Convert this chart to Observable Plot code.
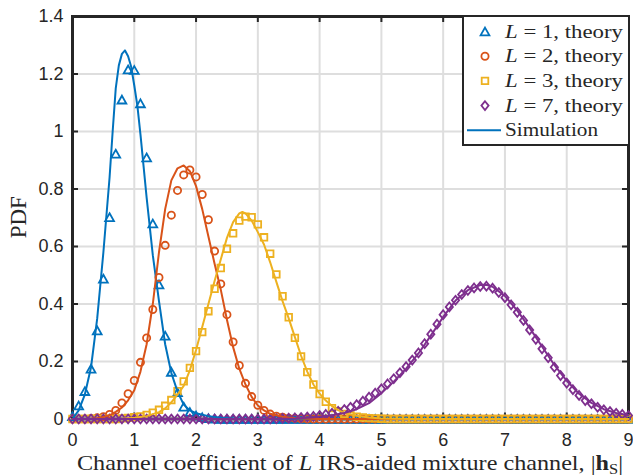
<!DOCTYPE html>
<html>
<head>
<meta charset="utf-8">
<script src="https://cdn.jsdelivr.net/npm/d3@7"></script>
<script src="https://cdn.jsdelivr.net/npm/@observablehq/plot@0.6"></script>
<style>
  html, body { margin: 0; padding: 0; background: #fff; }
  #chart svg { display: block; }
</style>
</head>
<body>
<div id="chart"></div>
<script>
// Sample positions of the theoretical PDF markers, |h_S| = 0 ... 9
const xs = [
  0, 0.1, 0.2, 0.3, 0.4, 0.5, 0.6, 0.7, 0.8, 0.9,
  1, 1.1, 1.2, 1.3, 1.4, 1.5, 1.6, 1.7, 1.8, 1.9,
  2, 2.1, 2.2, 2.3, 2.4, 2.5, 2.6, 2.7, 2.8, 2.9,
  3, 3.1, 3.2, 3.3, 3.4, 3.5, 3.6, 3.7, 3.8, 3.9,
  4, 4.1, 4.2, 4.3, 4.4, 4.5, 4.6, 4.7, 4.8, 4.9,
  5, 5.1, 5.2, 5.3, 5.4, 5.5, 5.6, 5.7, 5.8, 5.9,
  6, 6.1, 6.2, 6.3, 6.4, 6.5, 6.6, 6.7, 6.8, 6.9,
  7, 7.1, 7.2, 7.3, 7.4, 7.5, 7.6, 7.7, 7.8, 7.9,
  8, 8.1, 8.2, 8.3, 8.4, 8.5, 8.6, 8.7, 8.8, 8.9,
  9
];

// Theoretical PDF values
const theoryL1 = [
  0.010, 0.047, 0.097, 0.175, 0.308, 0.488, 0.702, 0.923, 1.111, 1.216,
  1.214, 1.098, 0.910, 0.680, 0.468, 0.290, 0.164, 0.093, 0.043, 0.024,
  0.012, 0.006, 0.003, 0.001, 0, 0, 0, 0, 0, 0,
  0, 0, 0, 0, 0, 0, 0, 0, 0, 0,
  0, 0, 0, 0, 0, 0, 0, 0, 0, 0,
  0, 0, 0, 0, 0, 0, 0, 0, 0, 0,
  0, 0, 0, 0, 0, 0, 0, 0, 0, 0,
  0, 0, 0, 0, 0, 0, 0, 0, 0, 0,
  0, 0, 0, 0, 0, 0, 0, 0, 0, 0,
  0
];
const theoryL2 = [
  0, 0, 0, 0.002, 0.004, 0.008, 0.016, 0.030, 0.056, 0.088,
  0.134, 0.197, 0.282, 0.381, 0.492, 0.604, 0.709, 0.795, 0.849, 0.866,
  0.842, 0.781, 0.693, 0.584, 0.470, 0.363, 0.268, 0.186, 0.124, 0.078,
  0.048, 0.030, 0.017, 0.010, 0.006, 0.003, 0.002, 0.001, 0, 0,
  0, 0, 0, 0, 0, 0, 0, 0, 0, 0,
  0, 0, 0, 0, 0, 0, 0, 0, 0, 0,
  0, 0, 0, 0, 0, 0, 0, 0, 0, 0,
  0, 0, 0, 0, 0, 0, 0, 0, 0, 0,
  0, 0, 0, 0, 0, 0, 0, 0, 0, 0,
  0
];
const theoryL3 = [
  0, 0, 0, 0, 0, 0, 0, 0, 0.002, 0.004,
  0.006, 0.009, 0.014, 0.022, 0.032, 0.046, 0.066, 0.097, 0.131, 0.178,
  0.236, 0.302, 0.375, 0.453, 0.525, 0.592, 0.646, 0.690, 0.704, 0.702,
  0.677, 0.632, 0.575, 0.503, 0.427, 0.354, 0.282, 0.218, 0.163, 0.120,
  0.087, 0.060, 0.038, 0.026, 0.018, 0.012, 0.008, 0.005, 0.003, 0.002,
  0.001, 0, 0, 0, 0, 0, 0, 0, 0, 0,
  0, 0, 0, 0, 0, 0, 0, 0, 0, 0,
  0, 0, 0, 0, 0, 0, 0, 0, 0, 0,
  0, 0, 0, 0, 0, 0, 0, 0, 0, 0,
  0
];
const theoryL7 = [
  0, 0, 0, 0, 0, 0, 0, 0, 0, 0,
  0, 0, 0, 0, 0, 0, 0, 0, 0, 0,
  0, 0, 0, 0, 0, 0, 0, 0, 0, 0,
  0, 0, 0, 0.001, 0.002, 0.003, 0.004, 0.005, 0.007, 0.009,
  0.012, 0.016, 0.020, 0.027, 0.033, 0.041, 0.050, 0.062, 0.076, 0.090,
  0.105, 0.122, 0.140, 0.161, 0.182, 0.205, 0.230, 0.262, 0.295, 0.330,
  0.363, 0.390, 0.413, 0.433, 0.447, 0.456, 0.461, 0.462, 0.455, 0.440,
  0.422, 0.397, 0.371, 0.343, 0.310, 0.277, 0.244, 0.213, 0.180, 0.151,
  0.125, 0.102, 0.082, 0.064, 0.053, 0.041, 0.032, 0.026, 0.020, 0.016,
  0.012
];

// Simulated (Monte Carlo) PDF curves
const simL1x = [0, 0.1, 0.2, 0.3, 0.4, 0.5, 0.6, 0.65, 0.7, 0.75, 0.8, 0.85, 0.9, 0.95, 1, 1.05, 1.1, 1.2, 1.3, 1.4, 1.5, 1.6, 1.7, 1.8, 1.9, 2, 2.2, 2.4, 2.6, 3, 4, 5, 6, 7, 8, 9];
const simL1y = [0, 0.03, 0.085, 0.18, 0.35, 0.58, 0.84, 1.0, 1.15, 1.23, 1.27, 1.282, 1.262, 1.225, 1.16, 1.09, 0.99, 0.77, 0.57, 0.41, 0.26, 0.16, 0.095, 0.05, 0.03, 0.02, 0.01, 0.004, 0.001, 0, 0, 0, 0, 0, 0, 0];
const simL2x = [0, 0.3, 0.4, 0.5, 0.6, 0.7, 0.8, 0.9, 1, 1.1, 1.2, 1.3, 1.4, 1.5, 1.6, 1.7, 1.8, 1.9, 2, 2.1, 2.2, 2.3, 2.4, 2.5, 2.6, 2.7, 2.8, 2.9, 3, 3.1, 3.2, 3.4, 3.6, 3.8, 4, 5, 6, 7, 8, 9];
const simL2y = [0, 0.001, 0.003, 0.007, 0.013, 0.025, 0.04, 0.065, 0.1, 0.165, 0.26, 0.4, 0.58, 0.73, 0.83, 0.872, 0.882, 0.862, 0.81, 0.73, 0.635, 0.54, 0.45, 0.345, 0.25, 0.175, 0.12, 0.077, 0.047, 0.03, 0.018, 0.008, 0.003, 0.001, 0, 0, 0, 0, 0, 0];
const simL3x = [0, 0.8, 1, 1.2, 1.4, 1.5, 1.6, 1.7, 1.8, 1.9, 2, 2.1, 2.2, 2.3, 2.4, 2.5, 2.6, 2.7, 2.75, 2.8, 2.9, 3, 3.1, 3.2, 3.3, 3.4, 3.5, 3.6, 3.7, 3.8, 3.9, 4, 4.1, 4.2, 4.3, 4.4, 4.6, 4.8, 5, 5.5, 6, 7, 8, 9];
const simL3y = [0, 0.001, 0.004, 0.01, 0.024, 0.037, 0.058, 0.085, 0.115, 0.17, 0.24, 0.32, 0.4, 0.48, 0.555, 0.63, 0.685, 0.715, 0.72, 0.715, 0.69, 0.65, 0.607, 0.545, 0.477, 0.41, 0.35, 0.285, 0.22, 0.165, 0.12, 0.088, 0.064, 0.045, 0.031, 0.021, 0.011, 0.005, 0.002, 0, 0, 0, 0, 0];
const simL7x = [0, 1, 2, 3, 3.4, 3.6, 3.8, 4, 4.2, 4.4, 4.6, 4.8, 5, 5.2, 5.4, 5.6, 5.8, 6, 6.2, 6.4, 6.6, 6.7, 6.8, 7, 7.2, 7.4, 7.6, 7.8, 8, 8.2, 8.4, 8.6, 8.8, 9];
const simL7y = [0, 0, 0, 0, 0.001, 0.002, 0.004, 0.008, 0.013, 0.021, 0.034, 0.055, 0.09, 0.13, 0.175, 0.228, 0.29, 0.355, 0.412, 0.448, 0.466, 0.467, 0.46, 0.428, 0.377, 0.317, 0.252, 0.188, 0.133, 0.088, 0.056, 0.034, 0.021, 0.013];

const xTicks = [0, 1, 2, 3, 4, 5, 6, 7, 8, 9];
const yTicks = [0, 0.2, 0.4, 0.6, 0.8, 1, 1.2, 1.4];

const seriesLs = ["1", "2", "3", "7"];
const colors = ["#0072BD", "#D95319", "#EDB120", "#7E2F8E"];

// MATLAB-like marker outlines
const triangleSym = { draw(ctx) { const w = 4.4, h = 3.9; ctx.moveTo(0, -h); ctx.lineTo(w, h); ctx.lineTo(-w, h); ctx.closePath(); } };
const squareSym = { draw(ctx) { const s = 3.3; ctx.moveTo(-s, -s); ctx.lineTo(s, -s); ctx.lineTo(s, s); ctx.lineTo(-s, s); ctx.closePath(); } };
const diamondSym = { draw(ctx) { const w = 3.6, h = 4.4; ctx.moveTo(0, -h); ctx.lineTo(w, 0); ctx.lineTo(0, h); ctx.lineTo(-w, 0); ctx.closePath(); } };
const circleSym = { draw(ctx) { const r = 3.6; ctx.moveTo(r, 0); ctx.arc(0, 0, r, 0, 2 * Math.PI); ctx.closePath(); } };
const symbols = [triangleSym, circleSym, squareSym, diamondSym];

const theory = [theoryL1, theoryL2, theoryL3, theoryL7];
const simX = [simL1x, simL2x, simL3x, simL7x];
const simY = [simL1y, simL2y, simL3y, simL7y];

const W = 633, H = 476;
const mL = 72, mR = 5, mT = 16, mB = 57.5;
const frameH = H - mT - mB, frameW = W - mL - mR;
const axisColor = "#262626";
const markerStroke = 1.8;

const dotMarks = theory.map((ys, k) =>
  Plot.dot(xs.map((x, i) => ({x, y: ys[i]})), {
    x: "x", y: "y", symbol: symbols[k], r: 4, fill: "none",
    stroke: colors[k], strokeWidth: markerStroke
  })
);
const lineMarks = simX.map((sx, k) =>
  Plot.line(sx.map((x, i) => ({x, y: simY[k][i]})), {
    x: "x", y: "y", stroke: colors[k], strokeWidth: 2
  })
);

const plot = Plot.plot({
  width: W, height: H,
  marginLeft: mL, marginRight: mR, marginTop: mT, marginBottom: mB,
  x: {domain: [0, 9]},
  y: {domain: [0, 1.4]},
  style: {fontFamily: "'Liberation Sans', Arial, sans-serif", fontSize: "18px", color: axisColor, background: "#fff", overflow: "visible"},
  marks: [
    Plot.gridX(xTicks, {stroke: "#dedede", strokeOpacity: 1, strokeWidth: 2}),
    Plot.gridY(yTicks, {stroke: "#dedede", strokeOpacity: 1, strokeWidth: 2}),
    Plot.axisX(xTicks, {tickSize: 0, tickPadding: 14.7, label: null, tickFormat: d => String(d), fill: axisColor}),
    Plot.axisY(yTicks, {tickSize: 0, tickPadding: 9, label: null, tickFormat: d => String(d), fill: axisColor}),
    // inward ticks on all four sides
    Plot.tickX(xTicks, {x: d => d, insetTop: frameH - 6, stroke: axisColor, strokeWidth: 2}),
    Plot.tickX(xTicks, {x: d => d, insetBottom: frameH - 6, stroke: axisColor, strokeWidth: 2}),
    Plot.tickY(yTicks, {y: d => d, insetRight: frameW - 6, stroke: axisColor, strokeWidth: 2}),
    Plot.tickY(yTicks, {y: d => d, insetLeft: frameW - 6, stroke: axisColor, strokeWidth: 2}),
    Plot.frame({stroke: axisColor, strokeWidth: 3}),
    ...dotMarks,
    ...lineMarks
  ]
});

document.getElementById("chart").append(plot);

const svg = d3.select(plot);
const serif = "'Liberation Serif', 'Times New Roman', serif";

// x-axis label
const xl = svg.append("text")
  .attr("x", 77).attr("y", 469.5)
  .attr("text-anchor", "start")
  .attr("textLength", 546).attr("lengthAdjust", "spacingAndGlyphs")
  .attr("font-family", serif).attr("font-size", 22).attr("fill", axisColor);
xl.append("tspan").text("Channel coefficient of ");
xl.append("tspan").attr("font-style", "italic").text("L");
xl.append("tspan").text(" IRS-aided mixture channel, |");
xl.append("tspan").attr("font-weight", "bold").text("h");
xl.append("tspan").attr("font-size", 15).attr("dy", 4).text("S");
xl.append("tspan").attr("dy", -4).text("|");

// y-axis label
svg.append("text")
  .attr("transform", `translate(26,${mT + frameH / 2}) rotate(-90)`)
  .attr("text-anchor", "middle")
  .attr("font-family", serif).attr("font-size", 23).attr("fill", axisColor)
  .text("PDF");

// legend
const lg = svg.append("g").attr("text-anchor", "start");
const boxX = 463, boxY = 16, boxW = 166, boxH = 129;
lg.append("rect").attr("x", boxX).attr("y", boxY).attr("width", boxW).attr("height", boxH)
  .attr("fill", "#fff").attr("stroke", axisColor).attr("stroke-width", 2);
const rowY = [31.5, 56.2, 80.9, 105.6, 130.3];
seriesLs.forEach((L, k) => {
  const p = d3.path();
  symbols[k].draw(p);
  lg.append("path").attr("d", p.toString())
    .attr("transform", `translate(485,${rowY[k]})`)
    .attr("fill", "none").attr("stroke", colors[k]).attr("stroke-width", markerStroke);
  const t = lg.append("text").attr("x", 505).attr("y", rowY[k] + 6)
    .attr("text-anchor", "start")
    .attr("textLength", 118).attr("lengthAdjust", "spacingAndGlyphs")
    .attr("font-family", serif).attr("font-size", 19).attr("fill", axisColor);
  t.append("tspan").attr("font-style", "italic").text("L");
  t.append("tspan").text(` = ${L}, theory`);
});
lg.append("line").attr("x1", 467).attr("x2", 501).attr("y1", rowY[4]).attr("y2", rowY[4])
  .attr("stroke", colors[0]).attr("stroke-width", 2);
lg.append("text").attr("x", 505).attr("y", rowY[4] + 6)
  .attr("text-anchor", "start")
  .attr("textLength", 93).attr("lengthAdjust", "spacingAndGlyphs")
  .attr("font-family", serif).attr("font-size", 19).attr("fill", axisColor)
  .text("Simulation");
</script>
</body>
</html>
